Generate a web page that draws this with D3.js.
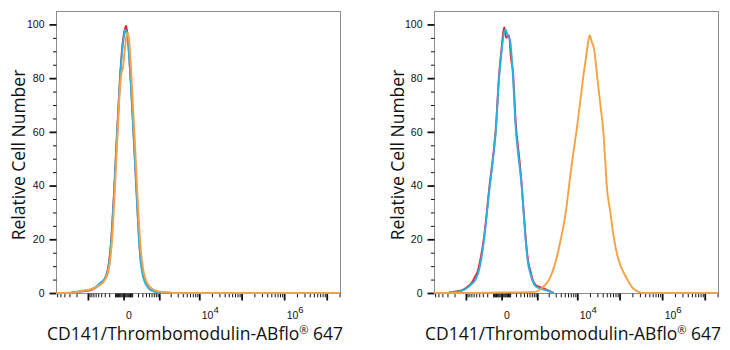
<!DOCTYPE html>
<html>
<head>
<meta charset="utf-8">
<script src="https://cdn.jsdelivr.net/npm/d3@7"></script>
<style>
  html, body { margin: 0; padding: 0; background: #fff; }
  svg { display: block; }
</style>
</head>
<body>
<svg id="chart" width="730" height="350"></svg>
<script>
// ---------------- data ----------------
const yTickValues = [0, 20, 40, 60, 80, 100];
const yMinorTickValues = [5, 10, 15, 25, 30, 35, 45, 50, 55, 65, 70, 75, 85, 90, 95];
const xMajorTickValues = [-1e3, 0, 1e3, 1e4, 1e5, 1e6, 1e7];
const xLabelValues = [0, 1e4, 1e6];
const xLabelBases = ["0", "10", "10"];
const xLabelExponents = ["", "4", "6"];
const xAxisTitle = "CD141/Thrombomodulin-ABflo";
const xAxisTitleTail = " 647";
const yAxisTitle = "Relative Cell Number";
const xDomain = [-6400, 2.05e7];
const yDomain = [0, 105];
const seriesColors = ["#e8262f", "#27b1e6", "#f6a244"]; // red, cyan, orange

// Left panel
const leftRedX = [-2890,-1770,-870,-600,-435,-292,-220,-183,-146,-114,-85,-59,-35,-14,5,25,40,59,85,114,146,183,220,262,318,404,530,640,763,1190];
const leftRedY = [0,0.5,1.0,2,3.5,5.5,9.5,15,25,38,53,67,81,91,97,99.5,96,89,77,63,49,34,21,12,7,3.8,2.2,1.2,0.5,0];
const leftCyanX = [-2890,-1770,-1160,-870,-600,-435,-292,-220,-183,-146,-114,-85,-59,-35,-14,5,14,35,59,85,114,146,183,220,262,318,404,530,763,1190];
const leftCyanY = [0,0.6,0.9,1.2,2.2,3.7,5.5,9,14,24,37,52,66,80,90,96,98,96,88,76,62,48,33,20,11,6,3,1.3,0.4,0];
const leftOrangeX = [-6400,-2170,-1500,-870,-600,-435,-292,-220,-183,-146,-114,-85,-59,-35,-20,-5,10,25,41,59,85,114,146,183,220,262,318,404,530,763,1000,1925,2200,2.05e7];
const leftOrangeY = [0,0.2,0.8,1.3,2.0,3.0,5,8,12,20,33,48,63,77,82,84,90,95,97,94,83,69,55,39,26,16,9,4.5,2.2,1.0,0.5,0.2,0,0];

// Right panel
const rightRedX = [-2730,-1310,-1020,-668,-523,-450,-389,-268,-151,-99,-63,-25,0,25,50,85,110,146,193,280,331,388,452,542,645,738,898,1310,1990,2660];
const rightRedY = [0.3,1,1.8,4,6.5,8,11,21,41,51,61,81,91,99,95,96,88,82,64,49,41,31,21,12,8,5,3,2,0.9,0];
const rightCyanX = [-2730,-1310,-1020,-668,-523,-375,-268,-151,-99,-63,-25,0,20,41,65,99,146,193,280,331,388,452,542,645,738,898,1310,1990,2660];
const rightCyanY = [0.3,0.8,1.5,3.5,5,10,20,40,50,60,80,90,96,98,96,94,80,62,47,40,30,20,11,7,4.5,2.5,1.5,0.7,0];
const rightOrangeX = [-6400,-2000,0,500,815,1370,2050,2780,3400,4000,5290,6360,7700,9520,11500,13750,15900,18000,19800,22000,25000,30000,35300,41550,45560,49930,60700,74220,88740,106600,152500,200000,262000,343000,2.05e7];
const rightOrangeY = [0,0,0.2,0.3,0.4,2,5,10,15,20,30,40,50,60,70,80,87,93,96,93.5,91,80,70,60,50,40,30,20,14,10,5,2,0.6,0,0];

// ---------------- minor x ticks (biexponential axis) ----------------
const xMinorTickValues = [];
[10,20,30,40,50,60,70,80,90,100,200,300,400,500,600,700,800,900].forEach(v => { xMinorTickValues.push(v, -v); });
[2,3,4,5,6].forEach(m => xMinorTickValues.push(-m * 1e3));
[3,4,5,6].forEach(e => [2,3,4,5,6,7,8,9].forEach(m => xMinorTickValues.push(m * Math.pow(10, e))));
[2].forEach(m => xMinorTickValues.push(m * 1e7));

// ---------------- drawing ----------------
const svg = d3.select("#chart");
const plotTop = 11, plotBottom = 293, plotWidth = 284;
const panels = [
  { x0: 56, series: [[leftRedX, leftRedY], [leftCyanX, leftCyanY], [leftOrangeX, leftOrangeY]], titleX: 18, id: "l" },
  { x0: 434, series: [[rightRedX, rightRedY], [rightCyanX, rightCyanY], [rightOrangeX, rightOrangeY]], titleX: 397, id: "r" }
];
const tickFont = "'Liberation Sans', Arial, sans-serif";

panels.forEach(p => {
  const x = d3.scaleSymlog().constant(170).domain(xDomain).range([p.x0, p.x0 + plotWidth]);
  const y = d3.scaleLinear().domain(yDomain).range([plotBottom, plotTop]);

  svg.append("clipPath").attr("id", "clip-" + p.id)
    .append("rect").attr("x", p.x0).attr("y", plotTop - 2).attr("width", plotWidth).attr("height", plotBottom - plotTop + 3);

  // frame
  svg.append("rect")
    .attr("x", p.x0 + 0.5).attr("y", plotTop + 0.5)
    .attr("width", plotWidth).attr("height", plotBottom - plotTop)
    .attr("fill", "none").attr("stroke", "#8c8c8c").attr("stroke-width", 1);

  // y axis
  const gy = svg.append("g").attr("transform", `translate(${p.x0 + 0.5},0)`);
  gy.call(d3.axisLeft(y).tickValues(yTickValues).tickSize(7).tickPadding(5).tickFormat(d3.format("d")));
  gy.append("g").call(d3.axisLeft(y).tickValues(yMinorTickValues).tickSize(3.5).tickFormat(""));
  gy.selectAll(".domain").remove();
  gy.selectAll(".tick line").attr("stroke", "#111");
  gy.selectAll(".tick").filter(d => yTickValues.includes(d)).select("line").attr("stroke-width", 1.8);
  gy.selectAll(".tick text").attr("fill", "#111").style("font-family", tickFont).style("font-size", "10.5px");

  // x axis
  const gx = svg.append("g").attr("transform", `translate(0,${plotBottom + 0.5})`);
  gx.call(d3.axisBottom(x).tickValues(xMajorTickValues).tickSize(7).tickFormat(""));
  gx.append("g").call(d3.axisBottom(x).tickValues(xMinorTickValues).tickSize(3.8).tickFormat(""));
  gx.selectAll(".domain").remove();
  gx.selectAll(".tick line").attr("stroke", "#111");
  gx.selectAll(".tick").filter(d => xMajorTickValues.includes(d)).select("line").attr("stroke-width", 1.8);

  // x tick labels (base + superscript exponent)
  xLabelValues.forEach((v, i) => {
    const t = svg.append("text")
      .attr("x", x(v) + 2.5).attr("y", plotBottom + 26)
      .attr("fill", "#111")
      .style("font-family", tickFont).style("font-size", "10.5px")
      .text(xLabelBases[i]);
    if (xLabelExponents[i]) {
      t.append("tspan").attr("dy", -6).style("font-size", "9.5px").text(xLabelExponents[i]);
    }
  });

  // curves
  const line = d3.line().x(d => x(d[0])).y(d => y(d[1])).curve(d3.curveMonotoneX);
  const gc = svg.append("g").attr("clip-path", `url(#clip-${p.id})`);
  p.series.forEach((s, i) => {
    const pts = s[0].map((v, k) => [v, s[1][k]]);
    gc.append("path").datum(pts)
      .attr("d", line)
      .attr("fill", "none")
      .attr("stroke", seriesColors[i])
      .attr("stroke-width", 1.9)
      .attr("stroke-linejoin", "round");
  });

  // axis titles
  svg.append("text")
    .attr("transform", `translate(${p.titleX + 7},${(plotTop + plotBottom) / 2 + 3}) rotate(-90)`)
    .attr("text-anchor", "middle")
    .attr("fill", "#111")
    .style("font-family", "'Open Sans', 'Noto Sans', sans-serif").style("font-size", "17.5px")
    .text(yAxisTitle);

  const tt = svg.append("text")
    .attr("x", p.x0 + plotWidth / 2 - 3).attr("y", 340)
    .attr("text-anchor", "middle")
    .attr("fill", "#111")
    .style("font-family", "'Open Sans', 'Noto Sans', sans-serif").style("font-size", "17.5px")
    .text(xAxisTitle);
  tt.append("tspan").attr("dy", -6).style("font-size", "11px").text("®");
  tt.append("tspan").attr("dy", 6).text(xAxisTitleTail);
});
</script>
</body>
</html>
